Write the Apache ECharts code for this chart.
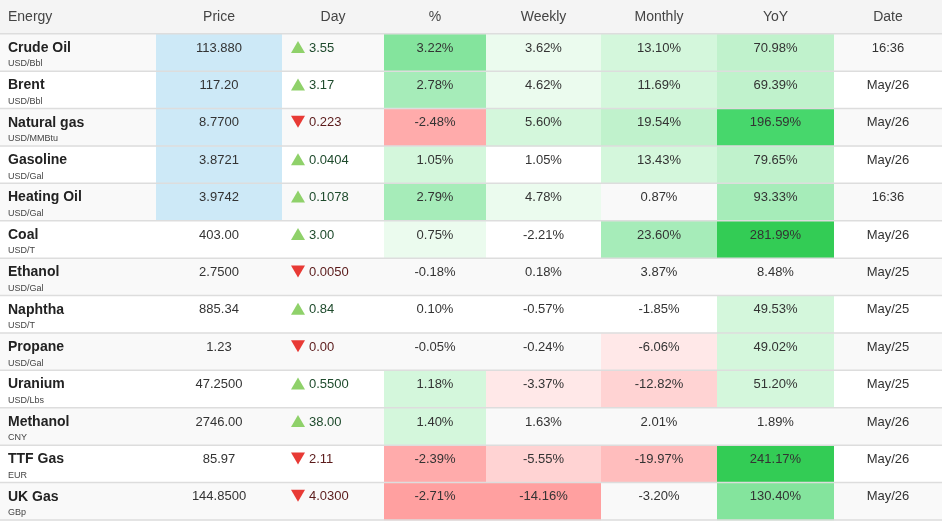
<!DOCTYPE html>
<html>
<head>
<meta charset="utf-8">
<script src="https://cdn.jsdelivr.net/npm/echarts@6/dist/echarts.min.js"></script>
<style>
  html, body { margin: 0; padding: 0; background: #fff; }
  #myChart { width: 942px; height: 521px; }
</style>
</head>
<body>
<div id="myChart"></div>
<script>
var headers = ["Energy", "Price", "Day", "%", "Weekly", "Monthly", "YoY", "Date"];
var names = ["Crude Oil", "Brent", "Natural gas", "Gasoline", "Heating Oil", "Coal", "Ethanol",
  "Naphtha", "Propane", "Uranium", "Methanol", "TTF Gas", "UK Gas"];
var units = ["USD/Bbl", "USD/Bbl", "USD/MMBtu", "USD/Gal", "USD/Gal", "USD/T", "USD/Gal",
  "USD/T", "USD/Gal", "USD/Lbs", "CNY", "EUR", "GBp"];
var prices = ["113.880", "117.20", "8.7700", "3.8721", "3.9742", "403.00", "2.7500",
  "885.34", "1.23", "47.2500", "2746.00", "85.97", "144.8500"];
var dayChange = ["3.55", "3.17", "-0.223", "0.0404", "0.1078", "3.00", "-0.0050",
  "0.84", "-0.00", "0.5500", "38.00", "-2.11", "-4.0300"];
var pct = [3.22, 2.78, -2.48, 1.05, 2.79, 0.75, -0.18, 0.10, -0.05, 1.18, 1.40, -2.39, -2.71];
var weekly = [3.62, 4.62, 5.60, 1.05, 4.78, -2.21, 0.18, -0.57, -0.24, -3.37, 1.63, -5.55, -14.16];
var monthly = [13.10, 11.69, 19.54, 13.43, 0.87, 23.60, 3.87, -1.85, -6.06, -12.82, 2.01, -19.97, -3.20];
var yoy = [70.98, 69.39, 196.59, 79.65, 93.33, 281.99, 8.48, 49.53, 49.02, 51.20, 1.89, 241.17, 130.40];
var dates = ["16:36", "May/26", "May/26", "May/26", "16:36", "May/26", "May/25",
  "May/25", "May/25", "May/25", "May/26", "May/26", "May/26"];
var liveRows = 5; // rows with the blue price highlight

// layout
var colX = [0, 156, 282, 384, 486, 601, 717, 834, 942];
var headH = 34, rowH = 37.4;
var greens = ["#ebfbee", "#d4f7dc", "#c0f2cc", "#a6ecb9", "#84e49d", "#47d76c", "#33cc55"];
var reds = ["#ffe8e8", "#ffd3d3", "#ffbdbd", "#ffabab", "#ffa0a0"];
// per-column thresholds (abs value) for shade levels
var greenSteps = {
  pct: [0.5, 1.0, 2.0, 2.5, 3.0, 99, 99],
  weekly: [2.5, 5.0, 99, 99, 99, 99, 99],
  monthly: [10, 11, 19, 22, 99, 99, 99],
  yoy: [40, 45, 65, 90, 120, 180, 240]
};
var redSteps = {
  pct: [0.5, 1.0, 1.5, 2.0, 2.6],
  weekly: [3, 5, 8, 10, 12],
  monthly: [5, 10, 15, 20, 25],
  yoy: [99, 99, 99, 99, 99]
};
function shade(v, key) {
  var steps = v >= 0 ? greenSteps[key] : redSteps[key];
  var pal = v >= 0 ? greens : reds;
  var lvl = -1;
  for (var i = 0; i < steps.length; i++) if (Math.abs(v) >= steps[i]) lvl = i;
  return lvl < 0 ? null : pal[lvl];
}

var font = "Liberation Sans, Arial, sans-serif";
var els = [];
els.push({ type: "rect", shape: { x: 0, y: 0, width: 942, height: headH }, style: { fill: "#f4f4f4" } });
headers.forEach(function (h, c) {
  els.push({
    type: "text",
    x: c === 0 ? 8 : (colX[c] + colX[c + 1]) / 2, y: 17,
    style: { text: h, fill: "#444", font: "14px " + font, align: c === 0 ? "left" : "center", verticalAlign: "middle" }
  });
});

function cell(c, top, text, fill, color) {
  if (fill) els.push({ type: "rect", shape: { x: colX[c], y: top, width: colX[c + 1] - colX[c], height: rowH }, style: { fill: fill } });
  els.push({
    type: "text", x: (colX[c] + colX[c + 1]) / 2, y: top + 14,
    style: { text: text, fill: color || "#333", font: "13px " + font, align: "center", verticalAlign: "middle" }
  });
}

names.forEach(function (n, r) {
  var top = headH + r * rowH;
  if (r % 2 === 0) els.push({ type: "rect", shape: { x: 0, y: top, width: 942, height: rowH }, style: { fill: "#f9f9f9" } });
  els.push({ type: "text", x: 8, y: top + 14, style: { text: n, fill: "#222", font: "bold 14px " + font, verticalAlign: "middle" } });
  els.push({ type: "text", x: 8, y: top + 30, style: { text: units[r], fill: "#444", font: "9px " + font, verticalAlign: "middle" } });
  cell(1, top, prices[r], r < liveRows ? "#cde9f7" : null);
  var d = dayChange[r], up = d.charAt(0) !== "-";
  var cy = top + 13;
  els.push({
    type: "polygon",
    shape: { points: up ? [[291, cy + 6], [305, cy + 6], [298, cy - 6]] : [[291, cy - 6], [305, cy - 6], [298, cy + 6]] },
    style: { fill: up ? "#8fd16a" : "#e83a35" }
  });
  els.push({ type: "text", x: 309, y: cy + 1, style: { text: up ? d : d.slice(1), fill: up ? "#1e4a2c" : "#5a1a1a", font: "13px " + font, verticalAlign: "middle" } });
  cell(3, top, pct[r].toFixed(2) + "%", shade(pct[r], "pct"));
  cell(4, top, weekly[r].toFixed(2) + "%", shade(weekly[r], "weekly"));
  cell(5, top, monthly[r].toFixed(2) + "%", shade(monthly[r], "monthly"));
  cell(6, top, yoy[r].toFixed(2) + "%", shade(yoy[r], "yoy"));
  cell(7, top, dates[r], null);
  els.push({ type: "rect", shape: { x: 0, y: top - 1, width: 942, height: 1.5 }, style: { fill: "#dddddd" } });
});
els.push({ type: "rect", shape: { x: 0, y: headH + names.length * rowH - 1, width: 942, height: 1.5 }, style: { fill: "#dddddd" } });

var myChart = echarts.init(document.getElementById("myChart"));
myChart.setOption({ animation: false, graphic: { elements: els } });
</script>
</body>
</html>
